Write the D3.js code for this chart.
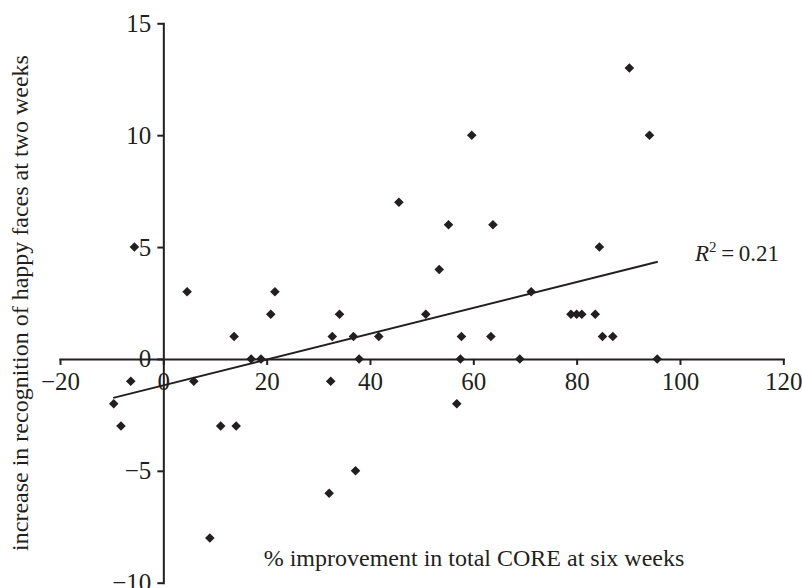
<!DOCTYPE html>
<html>
<head>
<meta charset="utf-8">
<script src="https://cdn.jsdelivr.net/npm/d3@7"></script>
<style>
  body { margin: 0; background: #fff; }
  svg { display: block; font-family: "Liberation Serif", "Times New Roman", serif; }
  .axis path, .axis line { stroke: #231f20; stroke-width: 2; }
  .axis text { font-family: "Liberation Serif", serif; font-size: 25px; fill: #231f20; }
</style>
</head>
<body>
<svg width="802" height="588"></svg>
<script>
// % improvement in total CORE at six weeks
var improvement = [-9.6, -8.2, -6.3, -5.6, 4.6, 5.9, 9.0, 11.1, 13.7, 14.1, 17.0, 18.9,
  20.8, 21.6, 32.1, 32.4, 32.7, 34.1, 36.8, 37.2, 37.9, 41.7, 45.6, 50.8, 53.4, 55.2,
  56.8, 57.5, 57.7, 59.7, 63.4, 63.8, 69.0, 71.2, 78.9, 80.0, 81.0, 83.6, 84.4, 85.0,
  87.0, 90.2, 94.1, 95.6];
// increase in recognition of happy faces at two weeks
var happyGain = [-2, -3, -1, 5, 3, -1, -8, -3, 1, -3, 0, 0,
  2, 3, -6, -1, 1, 2, 1, -5, 0, 1, 7, 2, 4, 6,
  -2, 0, 1, 10, 1, 6, 0, 3, 2, 2, 2, 2, 5, 1,
  1, 13, 10, 0];

// fitted trend line as drawn (ends)
var trendX = [-9.7, 95.7];
var trendY = [-1.74, 4.34];
var rSquared = "0.21";

var xTicks = [-20, 0, 20, 40, 60, 80, 100, 120];
var yTicks = [-10, -5, 0, 5, 10, 15];

var svg = d3.select("svg");

var x = d3.scaleLinear().domain([-20, 120]).range([60, 783.3]),
    y = d3.scaleLinear().domain([-10, 15]).range([582.7, 23.3]);

var points = improvement.map(function(d, i) { return {x: d, y: happyGain[i]}; });

// x axis runs through y = 0
svg.append("g")
    .attr("class", "axis")
    .attr("transform", "translate(0," + y(0) + ")")
    .call(d3.axisBottom(x).tickValues(xTicks).tickSize(6).tickSizeOuter(0).tickPadding(7))
    .call(function(g) { g.selectAll("text").attr("dy", "0.71em"); });

// y axis runs through x = 0
svg.append("g")
    .attr("class", "axis")
    .attr("transform", "translate(" + x(0) + ",0)")
    .call(d3.axisLeft(y).tickValues(yTicks).tickSize(6).tickSizeOuter(0).tickPadding(6));

svg.selectAll(".axis .domain").attr("stroke-linecap", "square");

// trend line
svg.append("line")
    .attr("x1", x(trendX[0]))
    .attr("y1", y(trendY[0]))
    .attr("x2", x(trendX[1]))
    .attr("y2", y(trendY[1]))
    .attr("stroke", "#231f20")
    .attr("stroke-width", 2);

// diamonds
var r = 4.8;
svg.append("g")
    .selectAll("path")
    .data(points)
    .enter().append("path")
    .attr("d", "M0," + (-r) + "L" + r + ",0L0," + r + "L" + (-r) + ",0Z")
    .attr("transform", function(d) { return "translate(" + x(d.x) + "," + y(d.y) + ")"; })
    .attr("fill", "#231f20");

// R squared label
var rl = svg.append("text")
    .attr("x", 695)
    .attr("y", 261)
    .attr("font-size", 23)
    .attr("fill", "#231f20");
rl.append("tspan").attr("font-style", "italic").text("R");
rl.append("tspan").attr("font-size", 15).attr("dy", -9).text("2");
rl.append("tspan").attr("dy", 9).text("\u2009=\u2009" + rSquared);

// axis titles
svg.append("text")
    .attr("x", 474)
    .attr("y", 566)
    .attr("text-anchor", "middle")
    .attr("font-size", 24)
    .attr("fill", "#231f20")
    .text("% improvement in total CORE at six weeks");

svg.append("text")
    .attr("transform", "translate(28,303) rotate(-90)")
    .attr("text-anchor", "middle")
    .attr("font-size", 24)
    .attr("fill", "#231f20")
    .text("increase in recognition of happy faces at two weeks");
</script>
</body>
</html>
